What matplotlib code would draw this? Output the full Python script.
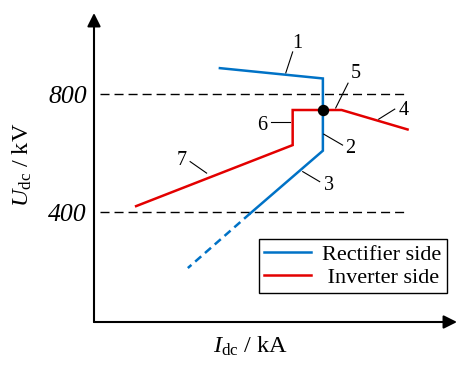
import matplotlib
matplotlib.use("Agg")
import matplotlib.pyplot as plt

plt.rcParams['font.family'] = ['Liberation Serif', 'DejaVu Serif']
plt.rcParams['mathtext.fontset'] = 'custom'
plt.rcParams['mathtext.rm'] = 'Liberation Serif'
plt.rcParams['mathtext.it'] = 'Liberation Serif:italic'

# rectifier side characteristic (Idc in kA, Udc in kV)
rect_I = [2.75, 5.0, 5.0, 3.41]
rect_U = [888, 853, 608, 395]
rect_ext_I = [3.41, 2.05]
rect_ext_U = [395, 210]

# inverter side characteristic
inv_I = [0.92, 4.34, 4.34, 5.41, 6.85]
inv_U = [420, 627, 746, 746, 680]

# operating point
op_I = 5.0
op_U = 746

# reference voltage levels
ref_U = [800, 400]
ref_I = [0.13, 6.79]

# segment numbers and their leader lines
seg_labels = ['1', '2', '3', '4', '5', '6', '7']
seg_text_pos = [(4.45, 973), (5.59, 617), (5.13, 489), (6.77, 746), (5.71, 871), (3.68, 695), (1.91, 576)]
leader_from = [(4.19, 872), (5.02, 664), (4.56, 537), (6.22, 715), (5.28, 753), (3.86, 706), (2.10, 571)]
leader_to = [(4.34, 943), (5.43, 627), (4.93, 503), (6.57, 749), (5.55, 837), (4.28, 706), (2.46, 532)]

blue = '#0072C6'
red = '#E30000'

fig = plt.figure(figsize=(4.57, 3.65), dpi=100)
ax = fig.add_axes([94/457, 43/365, 363/457, 309/365])

for u in ref_U:
    ax.plot(ref_I, [u, u], color='black', lw=1.0, dashes=(6.5, 3.6))

ax.plot(rect_I, rect_U, color=blue, lw=1.8, label='Rectifier side', solid_joinstyle='miter')
ax.plot(rect_ext_I, rect_ext_U, color=blue, lw=1.8, dashes=(3.2, 2.0))
ax.plot(inv_I, inv_U, color=red, lw=1.8, label=' Inverter side', solid_joinstyle='miter')
ax.plot([op_I], [op_U], 'o', color='black', ms=7.2, zorder=5)

for lab, pos, p0, p1 in zip(seg_labels, seg_text_pos, leader_from, leader_to):
    ax.plot([p0[0], p1[0]], [p0[1], p1[1]], color='black', lw=0.8)
    ax.text(pos[0], pos[1], lab, fontsize=14.5, ha='center', va='center')

ax.set_xlim(0, 7.93)
ax.set_ylim(27, 1075)

for s in ax.spines.values():
    s.set_visible(False)
ax.set_xticks([])
ax.set_yticks(ref_U)
ax.set_yticklabels(['800', '400'], fontsize=18.5, style='italic')
ax.tick_params(axis='y', length=0, pad=5)

# axes with arrow heads
arrow = dict(arrowstyle='-|>', mutation_scale=20, lw=1.5, color='black', shrinkA=0, shrinkB=0)
ax.annotate('', xy=(1.0, 0.0), xytext=(0.0, 0.0), xycoords='axes fraction', arrowprops=arrow)
ax.annotate('', xy=(0.0, 1.0), xytext=(0.0, 0.0), xycoords='axes fraction', arrowprops=arrow)

fig.text(22/457, 1 - 165/365, r'$U_{\mathrm{dc}}$ / kV', rotation=90, ha='center', va='center', fontsize=17.5)
fig.text(251/457, 1 - 353/365, r'$I_{\mathrm{dc}}$ / kA', ha='center', va='baseline', fontsize=17.5)

leg = ax.legend(loc='upper right', bbox_to_anchor=(0.972, 0.269), fontsize=16, frameon=True, fancybox=False,
                edgecolor='black', framealpha=1, handlelength=2.1, handletextpad=0.5, borderpad=0.25,
                labelspacing=0.1, borderaxespad=0)
leg.get_frame().set_linewidth(1.0)

fig.savefig('out.png', dpi=100)
